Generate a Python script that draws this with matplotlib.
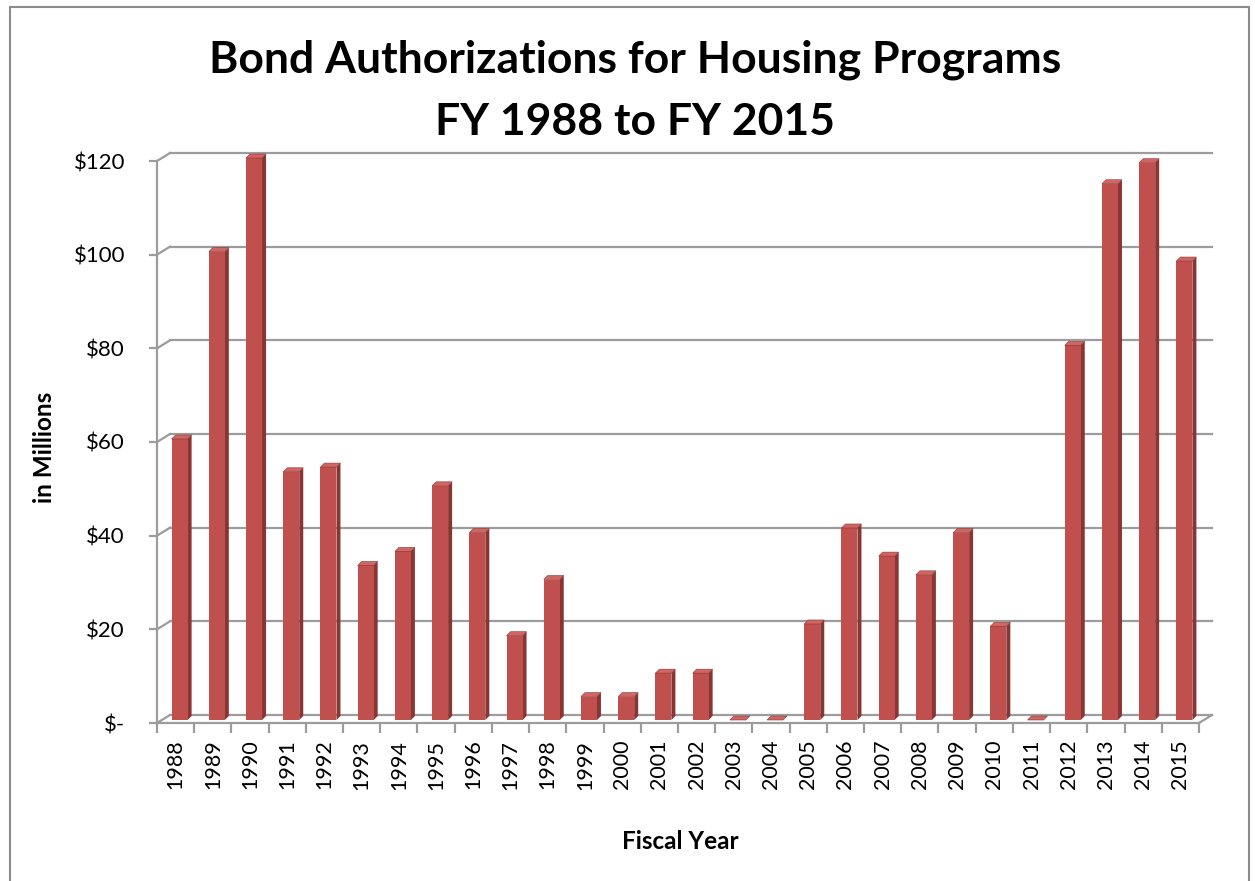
import matplotlib
matplotlib.use("Agg")
import matplotlib.pyplot as plt
from matplotlib import transforms
from matplotlib.patches import Polygon, Rectangle

plt.rcParams['font.family'] = ['Lato', 'DejaVu Sans']

# data (millions of dollars)
years = [str(y) for y in range(1988, 2016)]
amounts = [60, 100, 120, 53, 54, 33, 36, 50, 40, 18, 30, 5, 5, 10,
           10, 0, 0, 20.5, 41, 35, 31, 40, 20, 0, 80, 114.5, 119, 98]
y_ticks = [0, 20, 40, 60, 80, 100, 120]
y_tick_labels = ['$-', '$20', '$40', '$60', '$80', '$100', '$120']

front_col = '#C0504D'
side_col = '#8A3533'
top_col = '#CF6663'
grid_col = '#9C9C9C'

W, H = 1255, 881
fig = plt.figure(figsize=(W / 100, H / 100), dpi=100)
ax = fig.add_axes([157 / W, (H - 723) / H, 1042 / W, 562 / H])
ax.set_xlim(-0.5, len(years) - 0.5)
ax.set_ylim(0, 120)

# back wall offset for the 3-D look
back = transforms.offset_copy(ax.transData, fig=fig, x=13, y=8, units='dots')
bar_tr = transforms.offset_copy(ax.transData, fig=fig, x=4, y=3, units='dots')
ident = transforms.IdentityTransform()

x0, x1 = -0.5, len(years) - 0.5
for v in y_ticks:
    ax.plot([x0, x1], [v, v], color=grid_col, lw=1.6, transform=back,
            clip_on=False, zorder=1)
    p_front = ax.transData.transform((x0, v))
    p_back = back.transform((x0, v))
    ax.plot([p_front[0], p_back[0]], [p_front[1], p_back[1]], color=grid_col,
            lw=1.6, transform=ident, clip_on=False, zorder=1)
# right edge of the floor
pf = ax.transData.transform((x1, 0))
pb = back.transform((x1, 0))
ax.plot([pf[0], pb[0]], [pf[1], pb[1]], color=grid_col, lw=1.6,
        transform=ident, clip_on=False, zorder=1)

# bars: front face through ax.bar, side and top faces from its corners
bw = 0.43
dx, dy = 4, 4
bars = ax.bar(range(len(years)), amounts, width=bw, color=front_col,
              transform=bar_tr, zorder=4, clip_on=False)
for i, v in enumerate(amounts):
    xl, yb = bar_tr.transform((i - bw / 2, 0))
    xr, yt = bar_tr.transform((i + bw / 2, v))
    side = [(xr, yb), (xr + dx, yb + dy), (xr + dx, yt + dy), (xr, yt)]
    top = [(xl, yt), (xr, yt), (xr + dx, yt + dy), (xl + dx, yt + dy)]
    ax.add_patch(Polygon(side, closed=True, facecolor=side_col, edgecolor='none',
                         transform=ident, clip_on=False, zorder=3))
    ax.add_patch(Polygon(top, closed=True, facecolor=top_col, edgecolor=side_col,
                         lw=0.4, transform=ident, clip_on=False, zorder=5))

# axes lines and ticks
for s in ['top', 'right']:
    ax.spines[s].set_visible(False)
for s in ['left', 'bottom']:
    ax.spines[s].set_color(grid_col)
    ax.spines[s].set_linewidth(1.6)
ax.set_yticks(y_ticks)
ax.set_yticklabels(y_tick_labels, fontsize=16)
ax.tick_params(axis='y', length=6, width=1.6, color=grid_col, pad=17)
ax.set_xticks(range(len(years)))
ax.set_xticklabels(years, rotation=90, fontsize=15.5)
ax.set_xticks([i - 0.5 for i in range(len(years) + 1)], minor=True)
ax.tick_params(axis='x', which='major', length=0, pad=12)
ax.tick_params(axis='x', which='minor', length=7, width=1.6, color=grid_col)

ax.set_ylabel('in Millions', fontsize=17.5, fontweight='bold')
ax.yaxis.set_label_coords(-0.097, 0.49)
ax.set_xlabel('Fiscal Year', fontsize=17.5, fontweight='bold')
ax.xaxis.set_label_coords(0.502, -0.191)

fig.text(0.506, 1 - 60 / H, 'Bond Authorizations for Housing Programs',
         ha='center', va='center', fontsize=32, fontweight='bold')
fig.text(0.506, 1 - 122 / H, 'FY 1988 to FY 2015',
         ha='center', va='center', fontsize=32, fontweight='bold')

# chart border
fig.patches.append(Rectangle((10 / W, -0.05), 1239 / W, 1.05 - 7 / H,
                             transform=fig.transFigure, fill=False,
                             edgecolor='#8C8C8C', lw=1.5))

fig.savefig('out.png', dpi=100)
